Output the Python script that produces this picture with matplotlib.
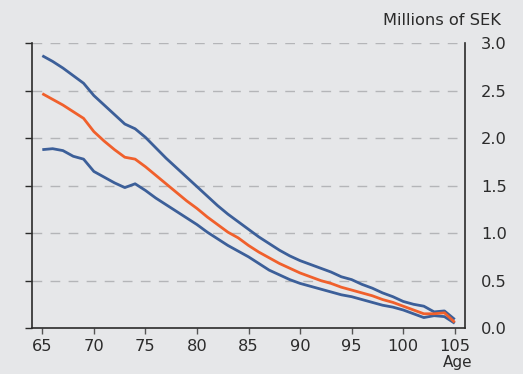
import matplotlib
matplotlib.use("Agg")
import matplotlib.pyplot as plt

ages = list(range(65, 106))

upper = [2.87, 2.81, 2.74, 2.66, 2.58, 2.45, 2.35, 2.25, 2.15, 2.10,
         2.01, 1.90, 1.79, 1.69, 1.59, 1.49, 1.39, 1.29, 1.20, 1.12,
         1.04, 0.96, 0.89, 0.82, 0.76, 0.71, 0.67, 0.63, 0.59, 0.54,
         0.51, 0.46, 0.42, 0.37, 0.33, 0.28, 0.25, 0.23, 0.17, 0.18, 0.09]

middle = [2.47, 2.41, 2.35, 2.28, 2.21, 2.07, 1.97, 1.88, 1.80, 1.78,
          1.70, 1.61, 1.52, 1.43, 1.34, 1.26, 1.17, 1.09, 1.01, 0.95,
          0.87, 0.80, 0.74, 0.68, 0.63, 0.58, 0.54, 0.50, 0.47, 0.43,
          0.40, 0.37, 0.34, 0.30, 0.27, 0.23, 0.19, 0.15, 0.15, 0.16, 0.06]

lower = [1.88, 1.89, 1.87, 1.81, 1.78, 1.65, 1.59, 1.53, 1.48, 1.52,
         1.45, 1.37, 1.30, 1.23, 1.16, 1.09, 1.01, 0.94, 0.87, 0.81,
         0.75, 0.68, 0.61, 0.56, 0.51, 0.47, 0.44, 0.41, 0.38, 0.35,
         0.33, 0.30, 0.27, 0.24, 0.22, 0.19, 0.15, 0.11, 0.13, 0.12, 0.05]

x_ticks = [65, 70, 75, 80, 85, 90, 95, 100, 105]
y_ticks = [0.0, 0.5, 1.0, 1.5, 2.0, 2.5, 3.0]

BG = "#e6e7e9"
BLUE = "#3c5f99"
ORANGE = "#f0602c"
INK = "#2b2b2b"

plt.rcParams["font.family"] = ["DejaVu Sans"]

fig = plt.figure(figsize=(5.23, 3.74), dpi=100, facecolor=BG)
ax = fig.add_axes([0.0612, 0.123, 0.828, 0.761], facecolor=BG)

for y in y_ticks[1:]:
    ax.axhline(y, color="#b4b5b8", lw=1.0, dashes=(7, 6), zorder=1)

ax.plot(ages, upper, color=BLUE, lw=2.0, zorder=3, solid_capstyle="butt")
ax.plot(ages, lower, color=BLUE, lw=2.0, zorder=3, solid_capstyle="butt")
ax.plot(ages, middle, color=ORANGE, lw=2.0, zorder=4, solid_capstyle="butt")

ax.set_xlim(64, 106)
ax.set_ylim(0, 3.0)

ax.spines["top"].set_visible(False)
for side in ("left", "right", "bottom"):
    ax.spines[side].set_color(INK)
    ax.spines[side].set_linewidth(1.2)

ax.set_xticks(x_ticks)
ax.set_xticklabels([str(v) for v in x_ticks])
ax.set_yticks(y_ticks)
ax.set_yticklabels([f"{v:.1f}" for v in y_ticks])

ax.tick_params(axis="x", direction="out", length=4, width=1.0, color="#555555",
               labelsize=11.7, labelcolor=INK, pad=4)
ax.tick_params(axis="y", which="both", left=True, right=False,
               labelleft=False, labelright=True, direction="out",
               length=5, width=1.0, color=INK, labelsize=11.7,
               labelcolor=INK, pad=6.5)

fig.text(0.957, 0.946, "Millions of SEK", ha="right", va="center",
         fontsize=11.7, color=INK)
fig.text(0.876, 0.03, "Age", ha="center", va="center",
         fontsize=11, color=INK)

fig.savefig("out.png", dpi=100, facecolor=BG)
